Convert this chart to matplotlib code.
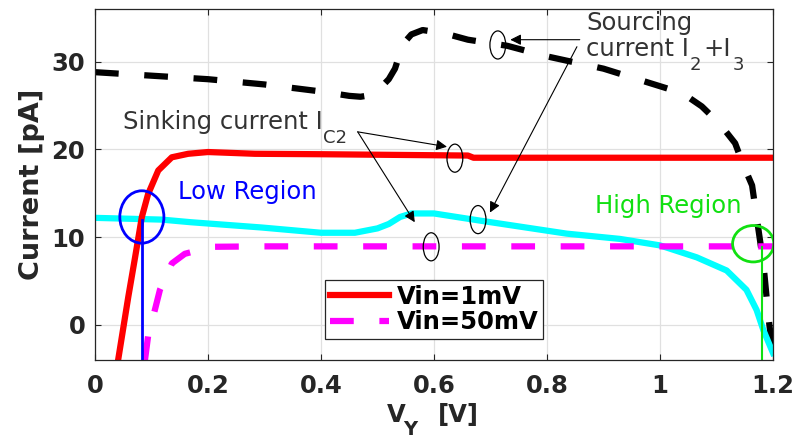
import matplotlib

matplotlib.use("Agg")

from matplotlib import pyplot as plt
from matplotlib.patches import Ellipse

# sourcing current I2+I3 (black dashed)
source_v = [0.0, 0.1, 0.2, 0.3, 0.4, 0.45, 0.47, 0.49, 0.508, 0.52, 0.531, 0.545, 0.56, 0.58, 0.62, 0.66,
            0.73, 0.8, 0.9, 1.0, 1.04, 1.074, 1.106, 1.133, 1.147, 1.163, 1.171, 1.183, 1.192, 1.2]
source_i = [28.8, 28.4, 28.0, 27.4, 26.6, 26.1, 26.0, 26.2, 27.2, 28.0, 29.2, 32.0, 33.1, 33.6, 33.2, 32.5,
            31.8, 30.6, 29.2, 27.2, 26.4, 24.9, 22.9, 20.7, 18.3, 15.9, 12.3, 7.0, 0.9, -3.5]

# sinking current, Vin = 1mV (red)
sink_1mv_v = [0.041, 0.059, 0.071, 0.083, 0.094, 0.112, 0.136, 0.165, 0.2, 0.283, 0.4, 0.66, 0.67, 1.2]
sink_1mv_i = [-4.0, 3.2, 7.7, 12.3, 14.9, 17.6, 19.1, 19.5, 19.7, 19.5, 19.45, 19.3, 19.05, 19.05]

# sinking current, Vin = 50mV (magenta dashed)
sink_50mv_v = [0.0885, 0.094, 0.106, 0.115, 0.136, 0.159, 0.206, 0.295, 1.2]
sink_50mv_i = [-4.0, -1.3, 1.7, 4.0, 7.0, 8.1, 8.9, 8.95, 8.95]

# sourcing current, Vin = 50mV (cyan)
cyan_v = [0.0, 0.118, 0.17, 0.295, 0.40, 0.46, 0.50, 0.52, 0.54, 0.56, 0.60, 0.68, 0.835, 0.929, 1.0,
          1.065, 1.118, 1.153, 1.171, 1.183, 1.2]
cyan_i = [12.2, 12.0, 11.7, 11.1, 10.5, 10.5, 11.0, 11.5, 12.3, 12.7, 12.7, 11.9, 10.4, 9.8, 9.06,
          7.7, 6.2, 4.0, 1.7, -0.6, -3.2]

# crossing points of the low / high regions
low_point = (0.083, 11.9)
high_point = (1.18, 8.87)
low_circle = (0.083, 12.3, 0.078, 5.97)
high_circle = (1.165, 9.25, 0.073, 4.15)

# small markers on the curves pointed at by the annotations
marker_centers = [(0.713, 31.9), (0.637, 19.0), (0.678, 12.0), (0.595, 8.9)]
marker_size = (0.028, 3.2)

sink_tail = (0.465, 22.0)
sink_heads = [(0.623, 20.3), (0.566, 11.7)]
source_tails = [(0.858, 32.5), (0.853, 31.7)]
source_heads = [(0.735, 32.5), (0.699, 12.8)]

x_ticks = [0, 0.2, 0.4, 0.6, 0.8, 1.0, 1.2]
x_tick_labels = ["0", "0.2", "0.4", "0.6", "0.8", "1", "1.2"]
y_ticks = [0, 10, 20, 30]

TEXT_GRAY = "#262626"
NOTE_GRAY = "#333333"
GREEN = "#11e011"
NOTE_SIZE = 17.5
SUB_SIZE = 13

figure = plt.figure(figsize=(7.96, 4.47), dpi=100)
axis = figure.add_axes([0.1193, 0.1946, 0.8518, 0.7853])

axis.plot(source_v, source_i, color="black", lw=4.5, dashes=(3.8, 4.1))
axis.plot(cyan_v, cyan_i, color="cyan", lw=4.5)
axis.plot(sink_1mv_v, sink_1mv_i, color="red", lw=4.5, label="Vin=1mV")
axis.plot(sink_50mv_v, sink_50mv_i, color="magenta", lw=4.5, dashes=(3.8, 4.1), label="Vin=50mV")

axis.plot([low_point[0], low_point[0]], [-4, low_point[1]], color="blue", lw=2)
axis.plot([high_point[0], high_point[0]], [-4, high_point[1]], color=GREEN, lw=1.5)
for (cx, cy, w, h), color in ((low_circle, "blue"), (high_circle, GREEN)):
    axis.add_patch(Ellipse((cx, cy), w, h, fill=False, edgecolor=color, lw=2, zorder=5))

for cx, cy in marker_centers:
    axis.add_patch(Ellipse((cx, cy), marker_size[0], marker_size[1], fill=False, edgecolor="black", lw=0.9,
                           zorder=5))

arrow_style = dict(arrowstyle="-|>", color="black", lw=0.8, mutation_scale=16, shrinkA=0, shrinkB=0)
for head in sink_heads:
    axis.annotate("", xy=head, xytext=sink_tail, arrowprops=arrow_style)
for tail, head in zip(source_tails, source_heads):
    axis.annotate("", xy=head, xytext=tail, arrowprops=arrow_style)

# annotation texts, subscripts placed as their own smaller texts
axis.text(0.050, 22.3, "Sinking current I", fontsize=NOTE_SIZE, color=NOTE_GRAY, va="baseline")
axis.text(0.4035, 20.7, "C2", fontsize=SUB_SIZE, color=NOTE_GRAY, va="baseline")
axis.text(0.869, 33.6, "Sourcing", fontsize=NOTE_SIZE, color=NOTE_GRAY, va="baseline")
axis.text(0.869, 30.6, "current I", fontsize=NOTE_SIZE, color=NOTE_GRAY, va="baseline")
axis.text(1.053, 29.1, "2", fontsize=SUB_SIZE, color=NOTE_GRAY, va="baseline")
axis.text(1.076, 30.6, "+I", fontsize=NOTE_SIZE, color=NOTE_GRAY, va="baseline")
axis.text(1.129, 29.1, "3", fontsize=SUB_SIZE, color=NOTE_GRAY, va="baseline")
axis.text(0.147, 14.4, "Low Region", fontsize=NOTE_SIZE, color="blue", va="baseline")
axis.text(0.885, 12.8, "High Region", fontsize=NOTE_SIZE, color=GREEN, va="baseline")

axis.set_xlim(0, 1.2)
axis.set_ylim(-4, 36)
axis.set_xticks(x_ticks)
axis.set_xticklabels(x_tick_labels)
axis.set_yticks(y_ticks)
axis.grid(color="#e0e0e0", lw=0.9)
axis.set_axisbelow(True)
axis.tick_params(direction="in", length=4, width=0.8, top=True, right=True, colors=TEXT_GRAY, labelsize=17.5)
axis.tick_params(axis="x", pad=10)
axis.tick_params(axis="y", pad=7)
for label in axis.get_xticklabels() + axis.get_yticklabels():
    label.set_fontweight("bold")
for spine in axis.spines.values():
    spine.set_color(TEXT_GRAY)
    spine.set_linewidth(0.9)

# x label V_Y [V] with a lowered subscript
figure.text(0.486, 0.056, "V", fontsize=NOTE_SIZE, fontweight="bold", color=TEXT_GRAY, va="baseline")
figure.text(0.507, 0.026, "Y", fontsize=14, fontweight="bold", color=TEXT_GRAY, va="baseline")
figure.text(0.550, 0.056, "[V]", fontsize=NOTE_SIZE, fontweight="bold", color=TEXT_GRAY, va="baseline")
axis.set_ylabel("Current [pA]", fontsize=19.5, fontweight="bold", color=TEXT_GRAY, labelpad=5)

legend = axis.legend(loc="upper left", bbox_to_anchor=(0.339, 0.228), fontsize=17.5, handlelength=2.45,
                     handletextpad=0.3, borderpad=0.2, labelspacing=0.05, fancybox=False, framealpha=1,
                     edgecolor=TEXT_GRAY, borderaxespad=0)
legend.get_frame().set_linewidth(0.9)
for text in legend.get_texts():
    text.set_fontweight("bold")
    text.set_color("black")

figure.savefig("out.png", dpi=100)
